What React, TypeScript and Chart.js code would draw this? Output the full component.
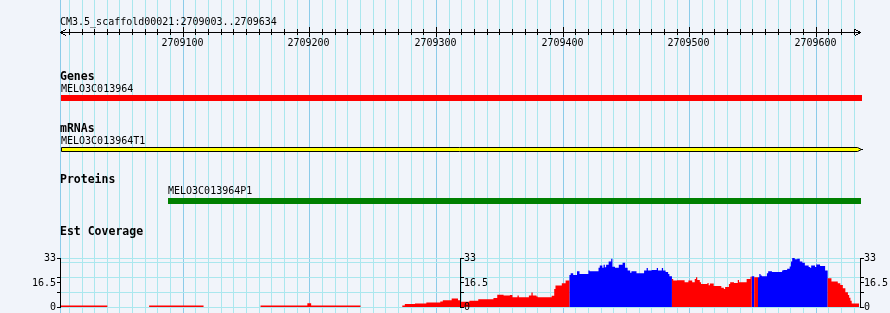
import React, { useEffect, useRef } from 'react';
import { Chart, registerables } from 'chart.js';

Chart.register(...registerables);

// ---------------- data ----------------
const REGION_NAME = 'CM3.5_scaffold00021';
const REGION_START = 2709003;
const REGION_END = 2709634;

const rulerLabelTicks = [2709100, 2709200, 2709300, 2709400, 2709500, 2709600];
const RULER_MINOR_STEP = 10;

const trackTitles = ['Genes', 'mRNAs', 'Proteins', 'Est Coverage'];

const geneNames = ['MELO3C013964'];
const geneStarts = [2709003];
const geneEnds = [2709635];

const mrnaNames = ['MELO3C013964T1'];
const mrnaStarts = [2709003];
const mrnaEnds = [2709634];

const proteinNames = ['MELO3C013964P1'];
const proteinStarts = [2709088];
const proteinEnds = [2709634];

const COV_MAX = 33;
const covLabelTicks = [0, 16.5, 33];
const covTickLabels = ['0', '16.5', '33'];
const covMinorTicks = [10, 20];
const covGridValues = [0, 10, 20, 30, 33];

// Est coverage as steps: each value holds from its position to the next one.
const covPositions = [
  2709003, 2709040, 2709073, 2709116, 2709161, 2709198, 2709201, 2709240,
  2709273, 2709275, 2709283, 2709292, 2709303, 2709305, 2709312, 2709317,
  2709319, 2709326, 2709333, 2709345, 2709348, 2709353, 2709358, 2709360,
  2709364, 2709365, 2709373, 2709375, 2709376, 2709379, 2709380, 2709391,
  2709393, 2709394, 2709399, 2709402,
  2709405, 2709406, 2709408, 2709411, 2709413, 2709420, 2709421, 2709428,
  2709429, 2709431, 2709432, 2709433, 2709434, 2709436, 2709438, 2709439,
  2709441, 2709444, 2709447, 2709449, 2709451, 2709453, 2709454, 2709458,
  2709464, 2709466, 2709467, 2709470, 2709474, 2709475, 2709478, 2709479,
  2709481, 2709483, 2709484,
  2709486, 2709487, 2709490, 2709496, 2709499, 2709502, 2709504, 2709505,
  2709506, 2709508, 2709509, 2709514, 2709515, 2709516, 2709519, 2709525,
  2709527, 2709528, 2709531, 2709532, 2709535, 2709538, 2709539, 2709545,
  2709548, 2709549, 2709551,
  2709554, 2709555, 2709556, 2709557, 2709561, 2709562, 2709565, 2709573,
  2709574, 2709577, 2709579, 2709580, 2709581, 2709583, 2709585, 2709587,
  2709589, 2709591, 2709594, 2709595, 2709596, 2709599, 2709600, 2709603,
  2709607,
  2709609, 2709612, 2709617, 2709619, 2709621, 2709623, 2709625, 2709626,
  2709627, 2709628,
];
const covValues = [
  1, 0, 1, 0, 1, 2.5, 1, 0,
  1, 2, 2.4, 3, 3.7, 4.6, 5.8, 4.6,
  3.6, 4.2, 5.3, 6, 8.3, 7.7, 8, 6.5,
  7.8, 6.5, 7.8, 9.8, 7.8, 7.1, 6.5, 7.6,
  12.1, 14.4, 16, 17.8,
  21.5, 22.8, 21.6, 24.1, 22.3, 24.6, 24.1, 26.4,
  28, 26.4, 28.4, 26.8, 28.4, 30.7, 32.5, 27.1,
  26.4, 28.4, 29.8, 26.4, 24.6, 23, 24.1, 22.8,
  24.6, 26.2, 24.6, 25, 26.2, 24.6, 26.2, 24.6,
  23.5, 22.3, 20.7,
  18.9, 17.8, 18, 16.7, 17.8, 16.7, 18.9, 20.1,
  18.2, 16.7, 15.5, 16.1, 14.6, 15.9, 14.1, 12.9,
  12.2, 13.4, 15.5, 16.7, 16.1, 18.2, 16.7, 18.9,
  20.4, 20.7, 20.1,
  20.1, 22.3, 21.2, 20.7, 22.8, 24.1, 23.5, 24.6,
  25, 25.8, 27.3, 30.7, 33, 32.1, 32.5, 30.7,
  29.8, 28, 26.9, 26.4, 28, 26.9, 28.7, 27.6,
  24.6,
  19.4, 17.1, 16, 14.8, 12.6, 9.9, 8, 6.3,
  4.2, 2.4,
];
const covGroups = [
  'r', 'r', 'r', 'r', 'r', 'r', 'r', 'r',
  'r', 'r', 'r', 'r', 'r', 'r', 'r', 'r',
  'r', 'r', 'r', 'r', 'r', 'r', 'r', 'r',
  'r', 'r', 'r', 'r', 'r', 'r', 'r', 'r',
  'r', 'r', 'r', 'r',
  'b', 'b', 'b', 'b', 'b', 'b', 'b', 'b',
  'b', 'b', 'b', 'b', 'b', 'b', 'b', 'b',
  'b', 'b', 'b', 'b', 'b', 'b', 'b', 'b',
  'b', 'b', 'b', 'b', 'b', 'b', 'b', 'b',
  'b', 'b', 'b',
  'r', 'r', 'r', 'r', 'r', 'r', 'r', 'r',
  'r', 'r', 'r', 'r', 'r', 'r', 'r', 'r',
  'r', 'r', 'r', 'r', 'r', 'r', 'r', 'r',
  'r', 'b', 'r',
  'b', 'b', 'b', 'b', 'b', 'b', 'b', 'b',
  'b', 'b', 'b', 'b', 'b', 'b', 'b', 'b',
  'b', 'b', 'b', 'b', 'b', 'b', 'b', 'b',
  'b',
  'r', 'r', 'r', 'r', 'r', 'r', 'r', 'r',
  'r', 'r',
];

// ---------------- styles / layout ----------------
const BG = '#f1f4fa';
const GRID_MINOR = '#aae7ee';
const GRID_MAJOR = '#8ccbe9';
const RED = '#ff0000';
const BLUE = '#0000ff';
const GREEN = '#008000';
const YELLOW = '#ffff00';
const FONT_SMALL = '10px "DejaVu Sans Mono", monospace';
const FONT_TITLE = 'bold 11.5px "DejaVu Sans Mono", monospace';

const W = 890;
const H = 313;
const PAD_LEFT = 60.5;
const PAD_RIGHT = 30.7;
const COV_TOP_PX = 258;
const COV_BASE_PX = 307;

const covRange = (COV_MAX * H) / (COV_BASE_PX - COV_TOP_PX);
const covMin = (-(H - COV_BASE_PX) * covRange) / H;
const covMaxScale = covMin + covRange;

const gridPositions: number[] = [];
for (let v = Math.ceil(REGION_START / RULER_MINOR_STEP) * RULER_MINOR_STEP; v <= REGION_END; v += RULER_MINOR_STEP) {
  gridPositions.push(v);
}

function buildSeries(group: string) {
  const pts = covPositions.map((pos, i) => ({ x: pos, y: covGroups[i] === group ? covValues[i] : 0 }));
  pts.push({ x: REGION_END, y: 0 });
  return pts;
}

const genomePlugin = {
  id: 'genomeTracks',
  beforeDraw(chart: any) {
    const ctx = chart.ctx;
    ctx.save();
    ctx.fillStyle = BG;
    ctx.fillRect(0, 0, chart.width, chart.height);
    ctx.restore();
  },
  beforeDatasetsDraw(chart: any) {
    const ctx = chart.ctx;
    const xs = chart.scales.x;
    const ys = chart.scales.y;
    ctx.save();
    const xl = Math.floor(xs.getPixelForValue(REGION_START));
    const xr = Math.round(xs.getPixelForValue(REGION_END)) + 1;
    // left boundary line of the panel
    ctx.fillStyle = GRID_MAJOR;
    ctx.fillRect(xl, 0, 1, chart.height);
    // coverage horizontal grid
    ctx.fillStyle = GRID_MINOR;
    covGridValues.forEach((v) => {
      const py = Math.floor(ys.getPixelForValue(v) + 0.001);
      ctx.fillRect(xl, py, xr - xl + 1, 1);
    });
    ctx.restore();
  },
  afterDatasetsDraw(chart: any) {
    const ctx = chart.ctx;
    const xs = chart.scales.x;
    const ys = chart.scales.y;
    const px = (v: number) => xs.getPixelForValue(v);
    ctx.save();
    ctx.fillStyle = '#000';
    ctx.strokeStyle = '#000';
    ctx.lineWidth = 1;

    // ---- ruler ----
    ctx.font = FONT_SMALL;
    ctx.textBaseline = 'alphabetic';
    ctx.textAlign = 'left';
    ctx.fillText(`${REGION_NAME}:${REGION_START}..${REGION_END}`, 60, 25);
    const rl = Math.floor(px(REGION_START));
    const rr = Math.floor(px(REGION_END + 1));
    const ry = 32;
    ctx.fillRect(rl, ry, rr - rl + 1, 1);
    for (let i = 0; i < 6; i++) {
      const d = Math.floor((i + 1) / 2);
      ctx.fillRect(rl + i, ry - d, 1, 1);
      ctx.fillRect(rl + i, ry + d, 1, 1);
      ctx.fillRect(rr - i, ry - d, 1, 1);
      ctx.fillRect(rr - i, ry + d, 1, 1);
    }
    gridPositions.forEach((v) => {
      const c = Math.floor(px(v));
      if (rulerLabelTicks.includes(v)) ctx.fillRect(c, 27, 1, 10);
      else ctx.fillRect(c, 29, 1, 6);
    });
    ctx.textAlign = 'center';
    rulerLabelTicks.forEach((v) => {
      const c = Math.floor(px(v));
      ctx.fillText(String(v), c - 0.5, 46);
    });

    // ---- track titles ----
    ctx.textAlign = 'left';
    ctx.font = FONT_TITLE;
    const titleBases = [80, 132, 183, 235];
    trackTitles.forEach((t, i) => ctx.fillText(t, 60, titleBases[i]));

    // ---- genes ----
    ctx.font = FONT_SMALL;
    geneNames.forEach((name, i) => {
      const l = Math.round(px(geneStarts[i]));
      const r = Math.round(px(geneEnds[i] + 1));
      ctx.fillStyle = '#000';
      ctx.fillText(name, l, 92);
      ctx.fillStyle = RED;
      ctx.fillRect(l, 95, r - l, 6);
    });

    // ---- mRNAs ----
    mrnaNames.forEach((name, i) => {
      const l = Math.round(px(mrnaStarts[i]));
      const r = Math.round(px(mrnaEnds[i] + 1));
      ctx.fillStyle = '#000';
      ctx.fillText(name, l, 144);
      ctx.beginPath();
      ctx.moveTo(l + 0.5, 147.5);
      ctx.lineTo(r - 3.5, 147.5);
      ctx.lineTo(r + 0.5, 149.5);
      ctx.lineTo(r - 3.5, 151.5);
      ctx.lineTo(l + 0.5, 151.5);
      ctx.closePath();
      ctx.fillStyle = YELLOW;
      ctx.fill();
      ctx.stroke();
      ctx.fillStyle = '#000';
      ctx.fillRect(r, 149, 2, 1);
    });

    // ---- proteins ----
    proteinNames.forEach((name, i) => {
      const l = Math.round(px(proteinStarts[i]));
      const r = Math.round(px(proteinEnds[i] + 1));
      ctx.fillStyle = '#000';
      ctx.fillText(name, l, 194);
      ctx.fillStyle = GREEN;
      ctx.fillRect(l, 198, r - l, 6);
    });

    // ---- coverage axes ----
    const axisTop = Math.floor(ys.getPixelForValue(COV_MAX) + 0.001);
    const axisBot = Math.floor(ys.getPixelForValue(0) + 0.001);
    const leftX = Math.floor(px(REGION_START));
    const midX = Math.floor((xs.left + xs.right) / 2) + 1;
    const rightX = Math.round(xs.right) + 1;
    const axes = [
      { x: leftX, dir: -1 },
      { x: midX, dir: 1 },
      { x: rightX, dir: 1 },
    ];
    ctx.fillStyle = '#000';
    ctx.font = FONT_SMALL;
    ctx.textBaseline = 'middle';
    axes.forEach(({ x, dir }) => {
      ctx.fillRect(x, axisTop, 1, axisBot - axisTop + 1);
      [...covLabelTicks, ...covMinorTicks].forEach((v) => {
        const py = Math.floor(ys.getPixelForValue(v) + 0.001);
        if (dir < 0) ctx.fillRect(x - 3, py, 3, 1);
        else ctx.fillRect(x + 1, py, 3, 1);
      });
      ctx.textAlign = dir < 0 ? 'right' : 'left';
      covLabelTicks.forEach((v, i) => {
        const py = ys.getPixelForValue(v);
        ctx.fillText(covTickLabels[i], dir < 0 ? x - 4 : x + 4, py + 0.5);
      });
    });

    ctx.restore();
  },
};

export default function App() {
  const ref = useRef<HTMLCanvasElement>(null);
  useEffect(() => {
    if (!ref.current) return;
    const chart = new Chart(ref.current, {
      type: 'line',
      data: {
        datasets: [
          {
            label: 'Est Coverage (red)',
            data: buildSeries('r'),
            stepped: 'before',
            fill: 'origin',
            backgroundColor: RED,
            borderColor: 'rgba(0,0,0,0)',
            borderWidth: 0,
            pointRadius: 0,
            tension: 0,
          },
          {
            label: 'Est Coverage (blue)',
            data: buildSeries('b'),
            stepped: 'before',
            fill: 'origin',
            backgroundColor: BLUE,
            borderColor: 'rgba(0,0,0,0)',
            borderWidth: 0,
            pointRadius: 0,
            tension: 0,
          },
        ],
      },
      options: {
        animation: false,
        responsive: true,
        maintainAspectRatio: false,
        events: [],
        layout: { padding: { left: PAD_LEFT, right: PAD_RIGHT, top: 0, bottom: 0 } },
        plugins: {
          legend: { display: false },
          tooltip: { enabled: false },
          title: { display: false },
        },
        scales: {
          x: {
            type: 'linear',
            min: REGION_START,
            max: REGION_END,
            afterBuildTicks: (scale: any) => {
              scale.ticks = gridPositions.map((v) => ({ value: v }));
            },
            ticks: { display: false, autoSkip: false },
            grid: {
              drawTicks: false,
              lineWidth: 1,
              color: (c: any) => (c.tick && c.tick.value % 100 === 0 ? GRID_MAJOR : GRID_MINOR),
            },
            border: { display: false },
          },
          y: {
            type: 'linear',
            min: covMin,
            max: covMaxScale,
            display: false,
          },
        },
      },
      plugins: [genomePlugin],
    } as any);
    return () => chart.destroy();
  }, []);
  return (
    <div style={{ position: 'absolute', left: 0, top: 0, width: W, height: H, background: BG }}>
      <canvas ref={ref} />
    </div>
  );
}
